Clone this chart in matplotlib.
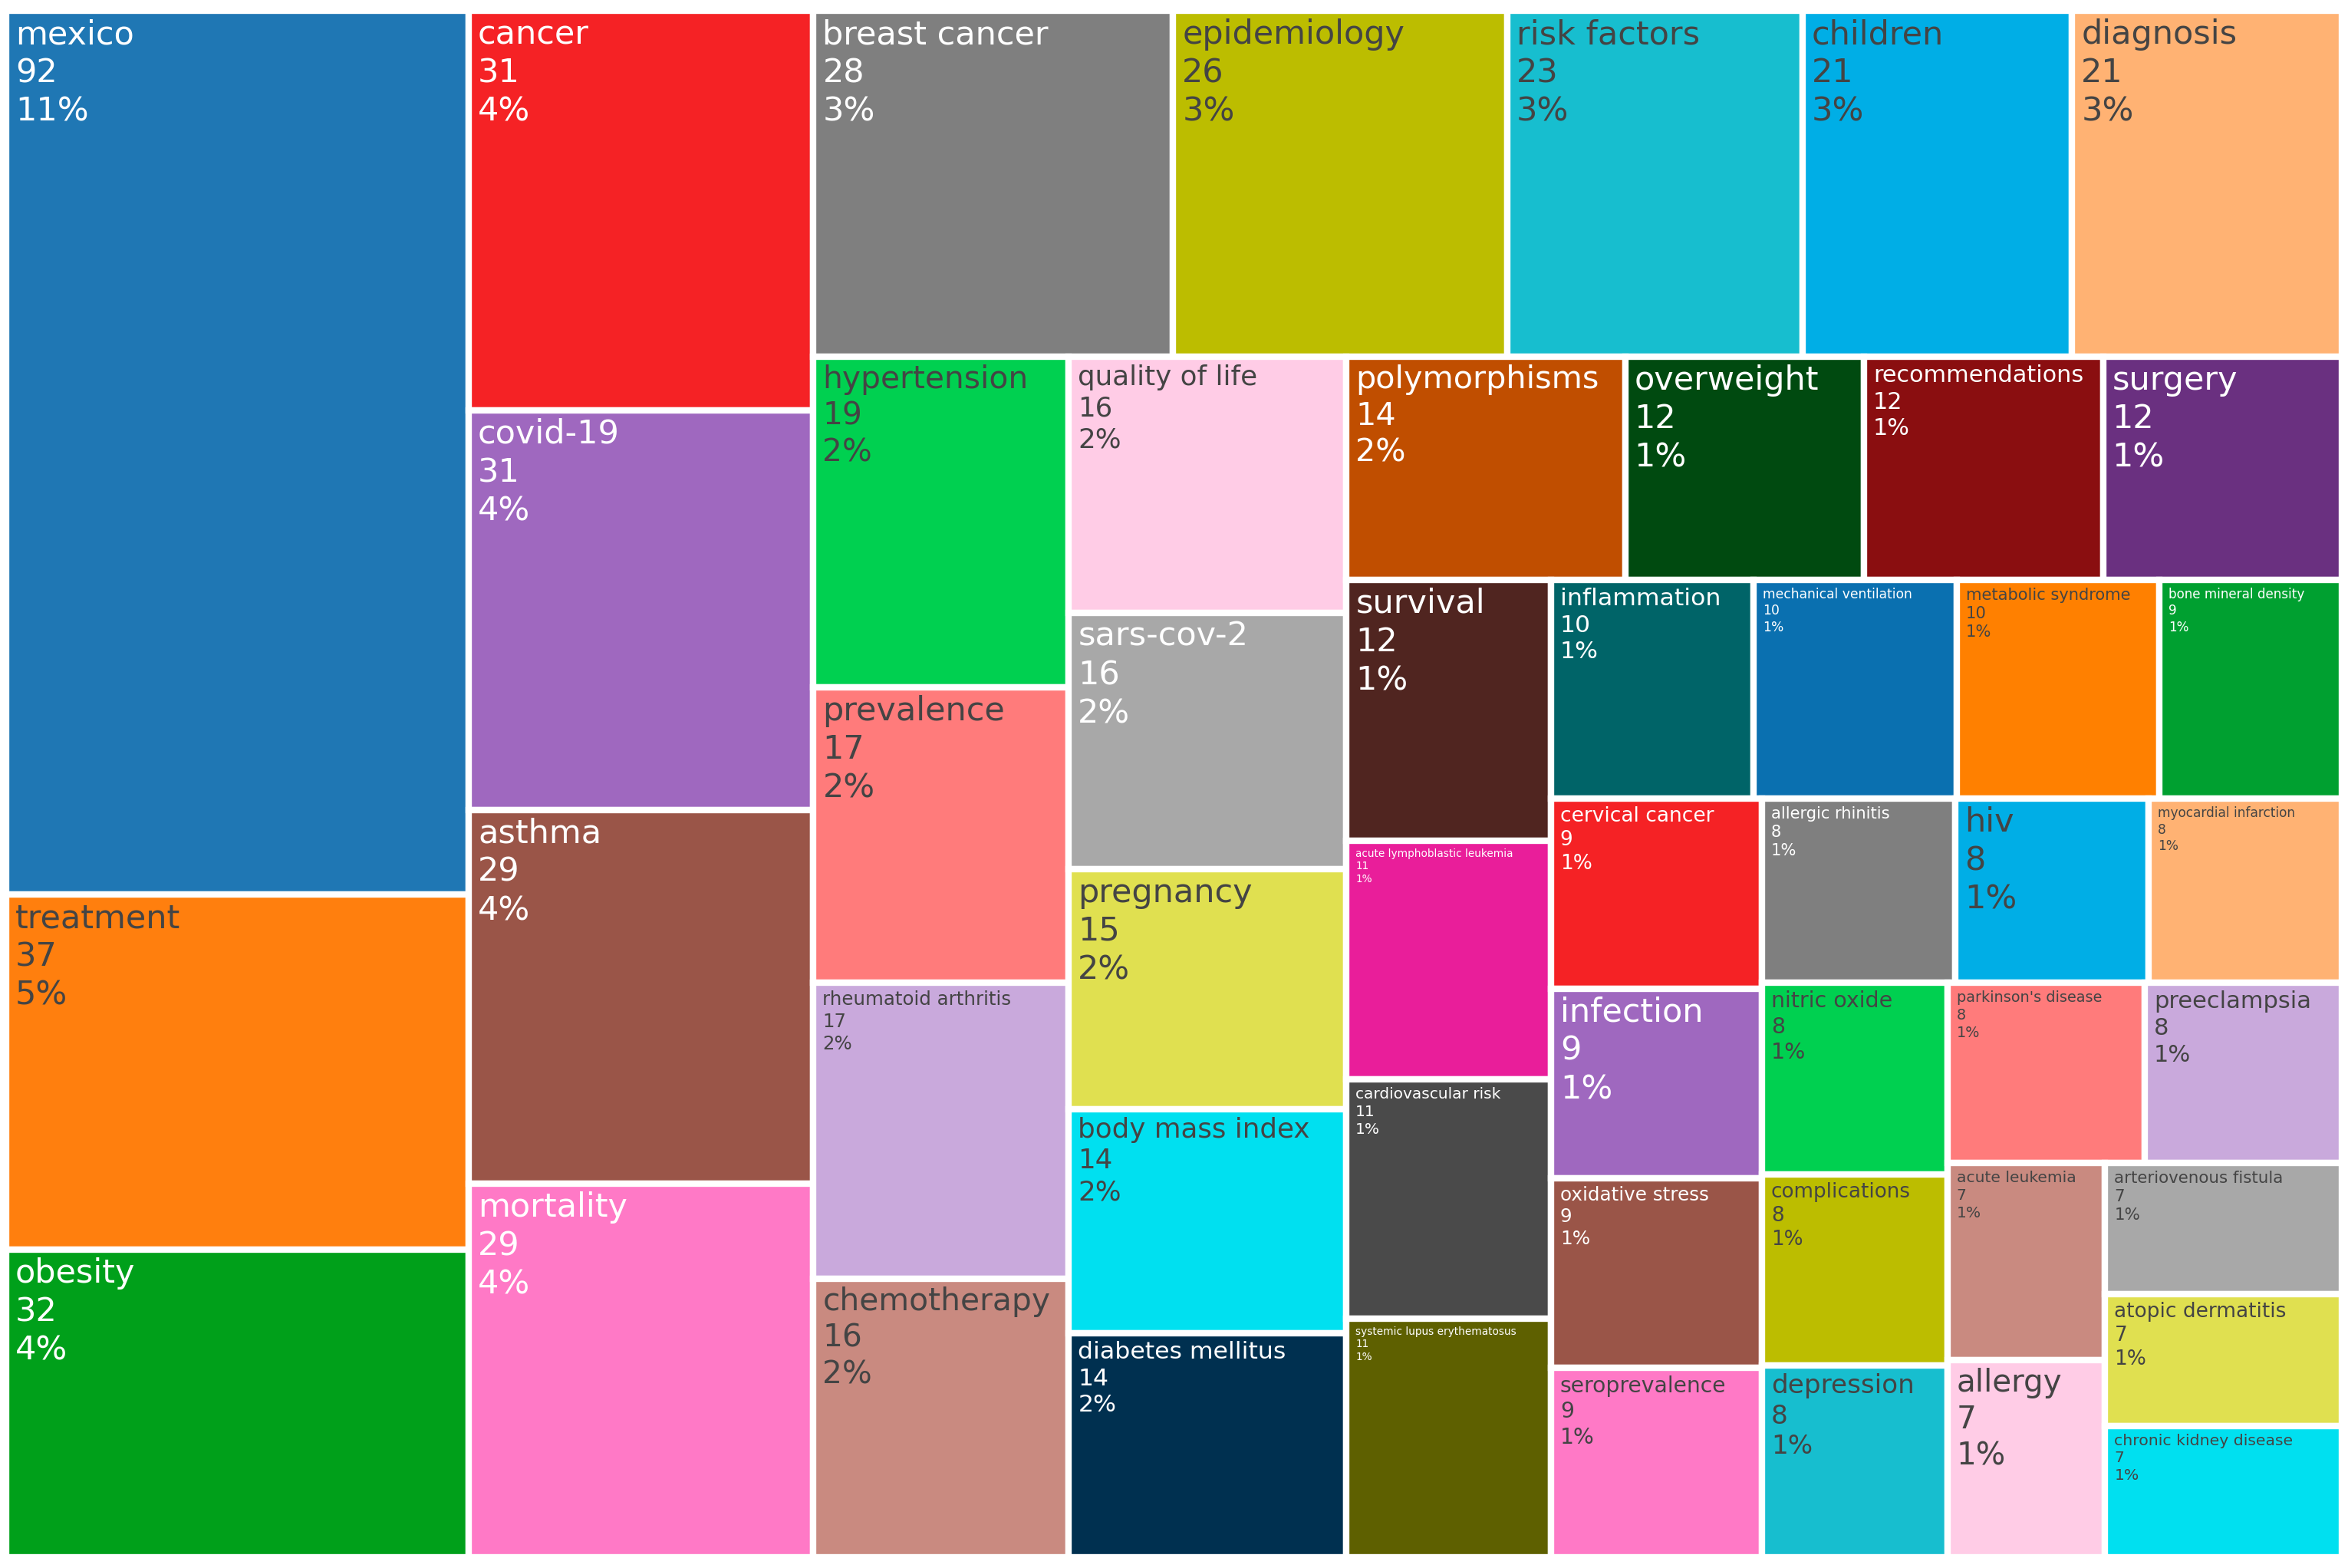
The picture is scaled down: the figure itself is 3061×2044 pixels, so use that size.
import matplotlib
matplotlib.use('Agg')
import matplotlib.pyplot as plt
from matplotlib.patches import Rectangle

labels = ['mexico', 'treatment', 'obesity', 'cancer', 'covid-19', 'asthma', 'mortality',
          'breast cancer', 'epidemiology', 'risk factors', 'children', 'diagnosis',
          'hypertension', 'prevalence', 'rheumatoid arthritis', 'chemotherapy', 'quality of life',
          'sars-cov-2', 'pregnancy', 'body mass index', 'diabetes mellitus', 'polymorphisms',
          'overweight', 'recommendations', 'surgery', 'survival',
          'acute lymphoblastic leukemia', 'cardiovascular risk', 'systemic lupus erythematosus',
          'inflammation', 'mechanical ventilation', 'metabolic syndrome', 'bone mineral density',
          'cervical cancer', 'infection', 'oxidative stress', 'seroprevalence',
          'allergic rhinitis', 'hiv', 'myocardial infarction', 'nitric oxide', 'complications',
          'depression', "parkinson's disease", 'preeclampsia',
          'acute leukemia', 'allergy', 'arteriovenous fistula', 'atopic dermatitis',
          'chronic kidney disease']
values = [92, 37, 32, 31, 31, 29, 29, 28, 26, 23, 21, 21, 19, 17, 17, 16, 16, 16, 15,
          14, 14, 14, 12, 12, 12, 12, 11, 11, 11, 10, 10, 10, 9, 9, 9, 9, 9,
          8, 8, 8, 8, 8, 8, 8, 8, 7, 7, 7, 7, 7]
colors = ['#1f77b4', '#ff7f0e', '#00a01a', '#f52225', '#9f68bf', '#9a5548', '#ff79c6',
          '#7f7f7f', '#bcbd00', '#17becf', '#00aee6', '#ffb273',
          '#00d050', '#ff7b7b', '#c9a9dc', '#c98a80', '#ffcce6',
          '#a8a8a8', '#e0e050', '#00e0f0', '#003050', '#c04e00',
          '#004a10', '#8a0e10', '#6a3080', '#502520',
          '#e91e9a', '#4a4a4a', '#5e6000',
          '#006468', '#0a70b0', '#ff8000', '#00a030',
          '#f52225', '#9f68bf', '#9a5548', '#ff79c6',
          '#7f7f7f', '#00aee6', '#ffb273', '#00d050', '#bcbd00',
          '#17becf', '#ff7b7b', '#c9a9dc',
          '#c98a80', '#ffcce6', '#a8a8a8', '#e0e050', '#00e0f0']
dark_text = {'treatment', 'epidemiology', 'risk factors', 'children', 'diagnosis',
             'hypertension', 'prevalence', 'rheumatoid arthritis', 'quality of life',
             'chemotherapy', 'pregnancy', 'body mass index', 'metabolic syndrome',
             'seroprevalence', 'hiv', 'nitric oxide', 'complications', 'depression',
             "parkinson's disease", 'preeclampsia', 'myocardial infarction', 'acute leukemia',
             'allergy', 'arteriovenous fistula', 'atopic dermatitis', 'chronic kidney disease'}

W, H = 3061.0, 2044.0
total = sum(values)


def worst(row, w):
    s = sum(row)
    return max(max(w * w * r / (s * s), s * s / (w * w * r)) for r in row)


def squarify(areas, x, y, dx, dy):
    # classic squarified treemap, y measured downward
    rects = []
    areas = list(areas)
    while areas:
        w = min(dx, dy)
        row = [areas.pop(0)]
        while areas and worst(row + [areas[0]], w) <= worst(row, w):
            row.append(areas.pop(0))
        s = sum(row)
        if dx >= dy:
            cw = s / dy
            cy = y
            for a in row:
                rects.append((x, cy, cw, a / cw))
                cy += a / cw
            x += cw
            dx -= cw
        else:
            rh = s / dx
            cx = x
            for a in row:
                rects.append((cx, y, a / rh, rh))
                cx += a / rh
            y += rh
            dy -= rh
    return rects


x0, y0, x1, y1 = 8, 14, W - 8, H - 14
scale = (x1 - x0) * (y1 - y0) / total
rects = squarify([v * scale for v in values], x0, y0, x1 - x0, y1 - y0)

fig = plt.figure(figsize=(W / 100, H / 100), dpi=100)
ax = fig.add_axes([0, 0, 1, 1])
ax.set_xlim(0, W)
ax.set_ylim(H, 0)
ax.axis('off')

for (rx, ry, rw, rh), lab, v, c in zip(rects, labels, values, colors):
    ax.add_patch(Rectangle((rx, ry), rw, rh, facecolor=c, edgecolor='white', linewidth=6))
    # font size in points, 1pt = 100/72 px
    fs = min(31, (rw - 30) / (len(lab) * 0.62) * 0.72, rh / 5.2 * 0.72)
    tc = '#444444' if lab in dark_text else 'white'
    pct = round(v / total * 100)
    ax.text(rx + 12, ry + 10, f'{lab}\n{v}\n{pct}%', color=tc, fontsize=fs,
            va='top', ha='left', linespacing=1.25, family='DejaVu Sans')

fig.savefig('out.png', dpi=100)
